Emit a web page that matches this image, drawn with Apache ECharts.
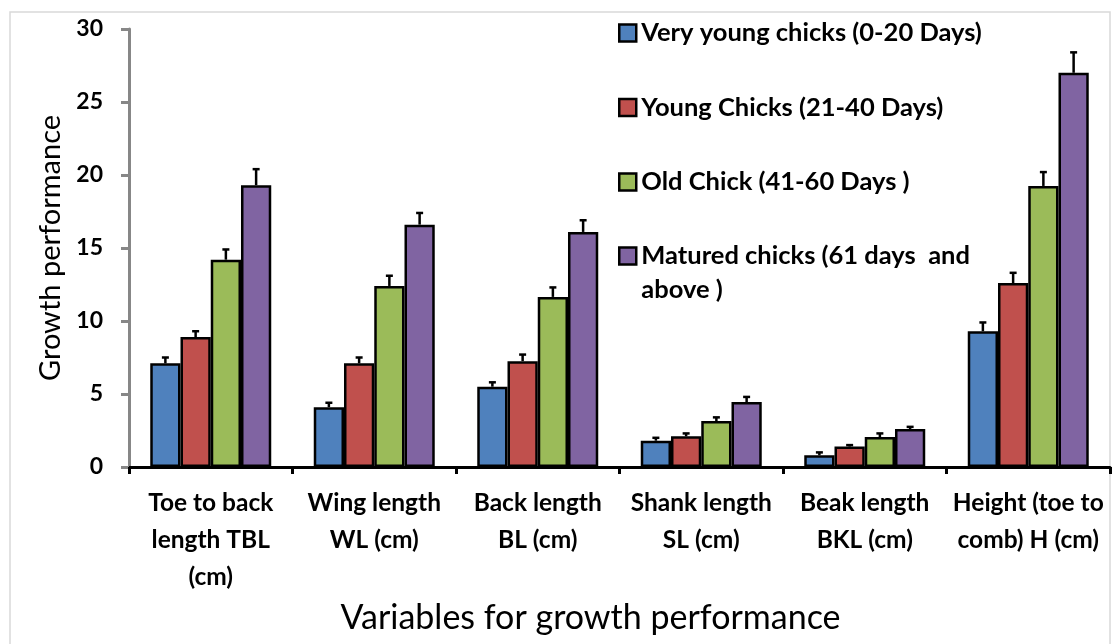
<!DOCTYPE html>
<html>
<head>
<meta charset="utf-8">
<script src="https://cdn.jsdelivr.net/npm/echarts@6/dist/echarts.min.js"></script>
<style>
  html, body { margin: 0; padding: 0; background: #fff; }
  #chart { width: 1112px; height: 644px; }
</style>
</head>
<body>
<div id="chart"></div>
<script>
const categories = [
  'Toe to back\nlength TBL\n(cm)',
  'Wing length\nWL (cm)',
  'Back length\nBL (cm)',
  'Shank length\nSL (cm)',
  'Beak length\nBKL (cm)',
  'Height (toe to\ncomb) H (cm)'
]
const seriesNames = [
  'Very young chicks (0-20 Days)',
  'Young Chicks (21-40 Days)',
  'Old Chick (41-60 Days )',
  'Matured chicks (61 days  and above )'
]
const veryYoung = [7.1, 4.1, 5.5, 1.8, 0.8, 9.3]
const young = [8.9, 7.1, 7.25, 2.1, 1.4, 12.6]
const old = [14.2, 12.4, 11.65, 3.15, 2.05, 19.25]
const matured = [19.3, 16.6, 16.1, 4.45, 2.6, 27.0]
// upper error bar length
const veryYoungErr = [0.4, 0.3, 0.3, 0.2, 0.2, 0.6]
const youngErr = [0.4, 0.4, 0.45, 0.2, 0.1, 0.7]
const oldErr = [0.7, 0.7, 0.65, 0.25, 0.25, 0.95]
const maturedErr = [1.1, 0.8, 0.8, 0.35, 0.15, 1.4]
const yTicks = [0, 5, 10, 15, 20, 25, 30]

const values = [veryYoung, young, old, matured]
const errors = [veryYoungErr, youngErr, oldErr, maturedErr]
const colors = ['#4f81bd', '#c0504d', '#9bbb59', '#8064a2']
const catGap = 0.26

const font = 'Lato, "Open Sans", sans-serif'

const chart = echarts.init(document.getElementById('chart'))

const barSeries = values.map((v, i) => ({
  name: seriesNames[i],
  type: 'bar',
  data: v,
  barGap: '0%',
  barCategoryGap: (catGap * 100) + '%',
  itemStyle: { color: colors[i], borderColor: '#000', borderWidth: 2.5 },
  z: 2
}))

// error bars drawn on top of each bar
const errSeries = values.map((v, i) => ({
  type: 'custom',
  name: 'err' + i,
  z: 3,
  data: v.map((val, k) => [k, val, val + errors[i][k]]),
  encode: { x: 0, y: [1, 2] },
  renderItem: (params, api) => {
    const k = api.value(0)
    const band = api.size([1, 0])[0]
    const barW = band * (1 - catGap) / 4
    const base = api.coord([k, api.value(1)])
    const top = api.coord([k, api.value(2)])
    const x = base[0] - band * (1 - catGap) / 2 + barW * (i + 0.5)
    const style = { stroke: '#000', lineWidth: 2.5 }
    return {
      type: 'group',
      children: [
        { type: 'line', shape: { x1: x, y1: base[1], x2: x, y2: top[1] }, style },
        { type: 'line', shape: { x1: x - 3.5, y1: top[1], x2: x + 3.5, y2: top[1] }, style }
      ]
    }
  }
}))

const legendCommon = {
  orient: 'vertical',
  left: 613,
  icon: 'rect',
  itemWidth: 17,
  itemHeight: 17,
  itemStyle: { borderColor: '#000', borderWidth: 2.5 },
  textStyle: { fontFamily: font, fontWeight: 'bold', fontSize: 25.5, color: '#000', lineHeight: 34 }
}

const option = {
  backgroundColor: '#fff',
  animation: false,
  graphic: [{
    type: 'rect',
    shape: { x: 10, y: 12, width: 1100, height: 660 },
    style: { fill: 'none', stroke: '#d9d9d9', lineWidth: 1.5 },
    silent: true
  }],
  legend: [
    Object.assign({}, legendCommon, {
      top: 11,
      itemGap: 40.5,
      data: seriesNames.slice(0, 3)
    }),
    Object.assign({}, legendCommon, {
      top: 200,
      data: [seriesNames[3]],
      formatter: () => '\nMatured chicks (61 days  and\nabove )'
    })
  ],
  grid: { left: 129, right: 2, top: 29, bottom: 177, containLabel: false },
  xAxis: {
    type: 'category',
    data: categories,
    name: 'Variables for growth performance',
    nameLocation: 'middle',
    nameGap: 119,
    nameTextStyle: { fontFamily: font, fontSize: 34, color: '#000', padding: [0, 58, 0, 0] },
    axisLine: { lineStyle: { color: '#000', width: 3 } },
    axisTick: { show: true, length: 7, lineStyle: { color: '#000', width: 3 } },
    axisLabel: {
      interval: 0,
      margin: 18,
      fontFamily: font,
      fontWeight: 'bold',
      fontSize: 24.5,
      lineHeight: 37,
      color: '#000'
    }
  },
  yAxis: {
    type: 'value',
    min: yTicks[0],
    max: yTicks[yTicks.length - 1],
    interval: yTicks[1] - yTicks[0],
    name: 'Growth performance',
    nameLocation: 'middle',
    nameGap: 64,
    nameTextStyle: { fontFamily: font, fontSize: 29, color: '#000' },
    axisLine: { show: true, lineStyle: { color: '#878787', width: 3 } },
    axisTick: { show: true, length: 8, lineStyle: { color: '#878787', width: 3 } },
    splitLine: { show: false },
    axisLabel: {
      margin: 26,
      fontFamily: font,
      fontWeight: 'bold',
      fontSize: 23,
      color: '#000'
    }
  },
  series: barSeries.concat(errSeries)
}

chart.setOption(option)
</script>
</body>
</html>
